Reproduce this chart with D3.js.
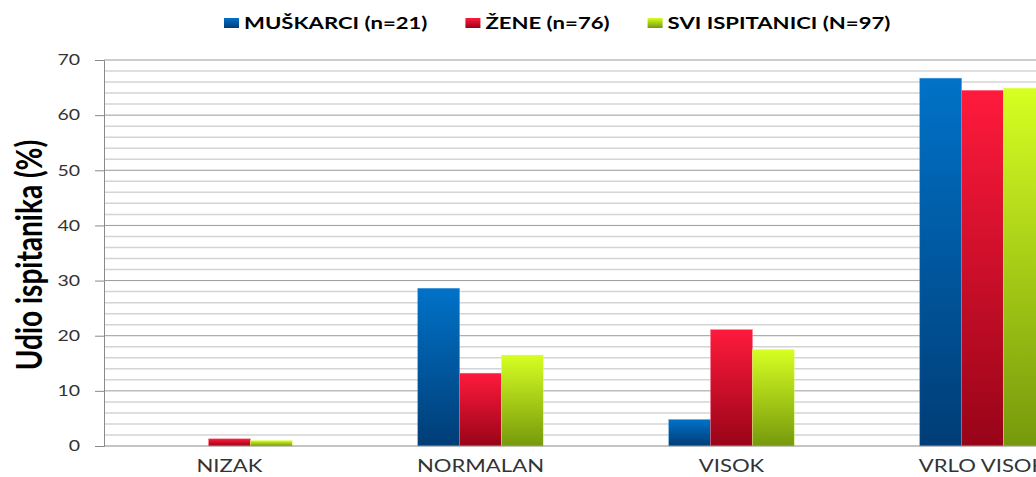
<!DOCTYPE html>
<html>
<head>
<meta charset="utf-8">
<script src="https://cdn.jsdelivr.net/npm/d3@7"></script>
<style>
  body { margin: 0; background: #fff; }
  svg { display: block; font-family: Lato, "Open Sans", sans-serif; }
</style>
</head>
<body>
<div id="chart"></div>
<script>
// data
var categories = ["NIZAK", "NORMALAN", "VISOK", "VRLO VISOK"];
var seriesNames = ["MUŠKARCI (n=21)", "ŽENE (n=76)", "SVI ISPITANICI (N=97)"];
var muskarci = [0, 28.6, 4.8, 66.7];
var zene = [1.3, 13.2, 21.1, 64.5];
var svi = [1.0, 16.5, 17.5, 64.9];
var yTicks = [0, 10, 20, 30, 40, 50, 60, 70];

var seriesValues = [muskarci, zene, svi];
var colors = [
  { top: "#0072c8", bottom: "#003d76", edge: "#4a9be0" },
  { top: "#ff1a3c", bottom: "#980418", edge: "#ff6a80" },
  { top: "#d6ff22", bottom: "#76990c", edge: "#e8ff80" }
];

var svgWidth = 1036;
var svgHeight = 477;
var SX = 1.3; // picture is stretched sideways

var svg = d3.select("#chart")
  .append("svg")
  .attr("width", svgWidth)
  .attr("height", svgHeight);

var defs = svg.append("defs");
colors.forEach(function (c, i) {
  var g = defs.append("linearGradient")
    .attr("id", "grad" + i)
    .attr("x1", 0).attr("y1", 0).attr("x2", 0).attr("y2", 1);
  g.append("stop").attr("offset", "0%").attr("stop-color", c.top);
  g.append("stop").attr("offset", "100%").attr("stop-color", c.bottom);
});

var left = 104;
var x0 = d3.scaleBand()
  .domain(categories)
  .range([left, left + 1004])
  .paddingInner(0.5)
  .paddingOuter(0.25);

var x1 = d3.scaleBand()
  .domain(d3.range(seriesNames.length))
  .range([0, x0.bandwidth()]);

var y = d3.scaleLinear()
  .domain([0, 70])
  .range([446, 60]);

// minor grid every 2
var minor = d3.range(2, 70, 2).filter(function (v) { return v % 10 !== 0; });
svg.append("g")
  .selectAll("line")
  .data(minor)
  .enter()
  .append("line")
  .attr("x1", left).attr("x2", svgWidth)
  .attr("y1", function (d) { return y(d); })
  .attr("y2", function (d) { return y(d); })
  .attr("stroke", "#d4d4d4")
  .attr("stroke-width", 1.5);

// major grid
svg.append("g")
  .selectAll("line")
  .data(yTicks.slice(1))
  .enter()
  .append("line")
  .attr("x1", left).attr("x2", svgWidth)
  .attr("y1", function (d) { return y(d); })
  .attr("y2", function (d) { return y(d); })
  .attr("stroke", "#9a9a9a")
  .attr("stroke-width", 1);

// bars
var groups = svg.append("g")
  .selectAll("g")
  .data(categories)
  .enter()
  .append("g")
  .attr("transform", function (d) { return "translate(" + x0(d) + ",0)"; });

groups.selectAll("rect")
  .data(function (d, ci) {
    return seriesValues.map(function (vals, si) { return { s: si, v: vals[ci] }; });
  })
  .enter()
  .append("rect")
  .attr("x", function (d) { return x1(d.s); })
  .attr("width", x1.bandwidth())
  .attr("y", function (d) { return y(d.v); })
  .attr("height", function (d) { return y(0) - y(d.v); })
  .attr("fill", function (d) { return "url(#grad" + d.s + ")"; })
  .attr("stroke", function (d) { return colors[d.s].edge; })
  .attr("stroke-width", 0.6)
  .attr("stroke-opacity", 0.7);

// y axis
var yAxis = svg.append("g")
  .attr("transform", "translate(" + left + ",0)")
  .call(d3.axisLeft(y).tickValues(yTicks).tickSize(9).tickPadding(15));
yAxis.select(".domain").attr("stroke", "#8a8a8a");
yAxis.selectAll(".tick line").attr("stroke", "#8a8a8a");
yAxis.selectAll("text")
  .attr("font-size", "15px")
  .attr("fill", "#333")
  .attr("font-family", "Lato, sans-serif")
  .classed("stretch", true);

// x axis line
svg.append("line")
  .attr("x1", left).attr("x2", svgWidth)
  .attr("y1", y(0)).attr("y2", y(0))
  .attr("stroke", "#8a8a8a");

// category labels
svg.append("g")
  .selectAll("text")
  .data(categories)
  .enter()
  .append("text")
  .attr("x", function (d) { return x0(d) + x0.bandwidth() / 2; })
  .attr("y", 472)
  .attr("text-anchor", "middle")
  .attr("font-size", "17px")
  .attr("fill", "#333")
  .classed("stretch", true)
  .text(function (d) { return d; });

// y title
svg.append("text")
  .attr("transform", "translate(42,255) scale(" + SX + ",1) rotate(-90)")
  .attr("text-anchor", "middle")
  .attr("font-size", "28px")
  .attr("font-weight", "bold")
  .attr("fill", "#000")
  .text("Udio ispitanika (%)");

// legend
var legend = svg.append("g");
var lx = 224;
seriesNames.forEach(function (name, i) {
  legend.append("rect")
    .attr("x", lx).attr("y", 18)
    .attr("width", 15).attr("height", 10)
    .attr("fill", "url(#grad" + i + ")");
  var t = legend.append("text")
    .attr("x", lx + 20)
    .attr("y", 29)
    .attr("font-size", "17px")
    .attr("font-weight", "bold")
    .attr("fill", "#000")
    .text(name);
  var w = t.node().getComputedTextLength() * SX;
  t.attr("textLength", w).attr("lengthAdjust", "spacingAndGlyphs");
  lx += 20 + w + 38;
});

// stretch horizontal labels like the picture
svg.selectAll(".stretch").each(function () {
  var len = this.getComputedTextLength();
  d3.select(this).attr("textLength", len * SX).attr("lengthAdjust", "spacingAndGlyphs");
});
</script>
</body>
</html>
